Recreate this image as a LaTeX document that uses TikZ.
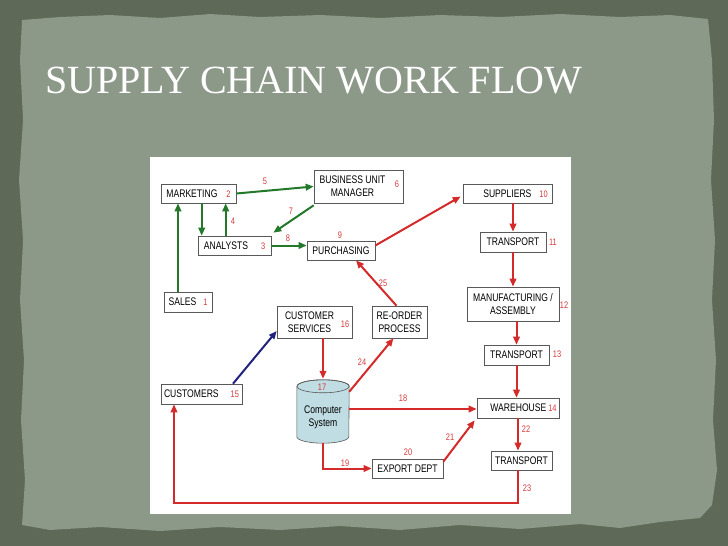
\documentclass[tikz,border=0pt]{standalone}
\usepackage{fontspec}
\setmainfont{Liberation Sans}
\newfontfamily\titlefont{Liberation Serif}
\newfontfamily\boxfont[FakeStretch=0.78]{Liberation Sans}
\usetikzlibrary{arrows.meta}
\definecolor{slate}{HTML}{5E6A57}
\definecolor{paper}{HTML}{8C9888}
\definecolor{flowgreen}{HTML}{23782A}
\definecolor{flowred}{HTML}{D42A2A}
\definecolor{flowblue}{HTML}{22227E}
\definecolor{numred}{HTML}{D23A3A}
\definecolor{drum}{HTML}{BFDDE3}
\newcommand{\steptag}[1]{{\color{numred}\fontsize{9.5}{10}\selectfont #1}}
\begin{document}
\begin{tikzpicture}[x=1pt,y=-1pt,every node/.style={font=\boxfont\fontsize{11}{13}\selectfont},
  box/.style={draw=black!65,line width=0.6pt,fill=white,inner sep=0pt,align=center},
  num/.style={text=numred,font=\boxfont\fontsize{9.5}{10}\selectfont,inner sep=0pt},
  garr/.style={-{Triangle[length=8pt,width=6.5pt]},line width=2pt,flowgreen},
  rarr/.style={-{Triangle[length=8pt,width=6.5pt]},line width=2pt,flowred},
  barr/.style={-{Triangle[length=8pt,width=6.5pt]},line width=2pt,flowblue}]
% Background
\fill[slate] (0,0) rectangle (728,546);
\fill[paper] (22,20) -- (60,17) -- (110,15) -- (160,18) -- (210,14) -- (260,17) -- (320,15) -- (380,18)
  -- (440,15) -- (500,17) -- (560,14) -- (620,17) -- (670,15) -- (708,19) -- (712,60) -- (714,120)
  -- (711,180) -- (715,240) -- (712,300) -- (716,360) -- (713,420) -- (717,470) -- (712,505) -- (700,518)
  -- (660,522) -- (620,528) -- (580,524) -- (520,529) -- (460,525) -- (400,530) -- (340,526) -- (280,530)
  -- (220,527) -- (160,531) -- (100,527) -- (50,530) -- (22,525) -- (25,480) -- (21,420) -- (24,360)
  -- (20,300) -- (23,240) -- (19,180) -- (23,120) -- (20,60) -- cycle;
\useasboundingbox (0,0) rectangle (728,546);
\node[font=\titlefont\fontsize{40}{44}\selectfont,text=white,anchor=base west,inner sep=0pt] (title) at (45,93) {SUPPLY CHAIN WORK FLOW};
\node[fill=white,minimum width=421pt,minimum height=357pt,inner sep=0pt] (panel) at (360.5,335.5) {};
% Boxes
\node[box,minimum width=75pt,minimum height=19pt] (mkt) at (198.5,193.5) {MARKETING\hspace{9pt}\steptag{2}};
\node[box,minimum width=73pt,minimum height=19pt] (ana) at (234.5,245.5) {ANALYSTS\hspace{13pt}\steptag{3}};
\node[box,minimum width=48pt,minimum height=20pt] (sales) at (188,302) {SALES\hspace{7pt}\steptag{1}};
\node[box,minimum width=89pt,minimum height=33pt] (bum) at (358.5,186.5) {\hspace{-12pt}BUSINESS UNIT\\\hspace{-12pt}MANAGER};
\node[box,minimum width=89pt,minimum height=19pt] (sup) at (507.5,193.5) {\hspace{16pt}SUPPLIERS\hspace{8pt}\steptag{10}};
\node[box,minimum width=68pt,minimum height=19pt] (pur) at (341,250.5) {PURCHASING};
\node[box,minimum width=66pt,minimum height=20pt] (tra) at (513,242) {TRANSPORT};
\node[box,minimum width=92pt,minimum height=34pt] (man) at (513,304) {MANUFACTURING /\\ASSEMBLY};
\node[box,minimum width=65pt,minimum height=20pt] (trb) at (516.5,355) {TRANSPORT};
\node[box,minimum width=82pt,minimum height=20pt] (wh) at (518,408) {\hspace{11pt}WAREHOUSE\hspace{2pt}\steptag{14}};
\node[box,minimum width=61pt,minimum height=19pt] (trc) at (521.5,460.5) {TRANSPORT};
\node[box,minimum width=71pt,minimum height=19pt] (exp) at (407.5,468.5) {EXPORT DEPT};
\node[box,minimum width=55pt,minimum height=32pt] (ro) at (399.5,322) {RE-ORDER\\PROCESS};
\node[box,minimum width=75pt,minimum height=32pt] (cs) at (314.5,322) {\hspace{-10pt}CUSTOMER\\\hspace{-10pt}SERVICES};
\node[box,minimum width=81pt,minimum height=20pt] (cust) at (201.5,394) {CUSTOMERS\hspace{12pt}\steptag{15}};
% Computer system
\node[minimum width=52pt,minimum height=63pt,inner sep=0pt] (comp) at (323,411.5) {};
\filldraw[fill=drum,draw=black!65,line width=0.6pt] ([yshift=-6.5pt]comp.north west) -- ([yshift=6.5pt]comp.south west)
  arc (180:0:26 and 6.5) -- ([yshift=-6.5pt]comp.north east) arc (0:-180:26 and 6.5) -- cycle;
\draw[black!65,line width=0.6pt] ([yshift=-6.5pt]comp.north) ellipse (26 and 6.5);
\node[align=center] (comptxt) at (323,417) {Computer\\System};
% Green flows
\draw[garr] ([xshift=-10pt]sales.north) -- ([xshift=-10pt]sales.north |- mkt.south);
\draw[garr] ([xshift=4pt]ana.north west |- mkt.south) -- ([xshift=4pt]ana.north west);
\draw[garr] ([xshift=28pt]ana.north west) -- ([xshift=28pt]ana.north west |- mkt.south);
\draw[garr] (mkt.east) -- (bum.west);
\draw[garr] ([yshift=-2pt]bum.south west) -- ([xshift=2pt,yshift=3pt]ana.north east);
\draw[garr] (ana.east) -- (ana.east -| pur.west);
% Red flows
\draw[rarr] ([yshift=5pt]pur.east) -- ([xshift=-2pt,yshift=-3pt]sup.west);
\draw[rarr] (tra.north |- sup.south) -- (tra.north);
\draw[rarr] (tra.south) -- (tra.south |- man.north);
\draw[rarr] (trb.north |- man.south) -- (trb.north);
\draw[rarr] (trb.south) -- (trb.south |- wh.north);
\draw[rarr] (wh.south) -- (wh.south |- trc.north);
\coordinate (loop) at (0,503);
\draw[rarr] ([xshift=-3.5pt]trc.south) -- ([xshift=-3.5pt]trc.south |- loop) -| ([xshift=-27.5pt]cust.south);
\draw[rarr] ([xshift=-3pt]ro.north) -- ([xshift=15pt]pur.south);
\draw[rarr] ([yshift=-12pt]comp.north east) -- ([xshift=-6pt]ro.south);
\draw[rarr] (cs.south -| comp.north) -- ([yshift=1pt]comp.north);
\draw[rarr] ([yshift=-1pt]wh.west -| comp.east) -- ([yshift=-1pt]wh.west);
\draw[rarr] (comp.south) |- (exp.west);
\draw[rarr] ([yshift=-3pt]exp.north east) -- ([xshift=-2pt,yshift=-2pt]wh.south west);
% Blue flow
\draw[barr] ([xshift=31.5pt]cust.north) -- ([yshift=-9pt]cs.west);
% Step numbers
\node[num] (n4) at (233,221) {4};
\node[num] (n5) at (265,181) {5};
\node[num] (n6) at (397,184) {6};
\node[num] (n7) at (291,211) {7};
\node[num] (n8) at (288,238) {8};
\node[num] (n9) at (340,235) {9};
\node[num] (n11) at (553,242) {11};
\node[num] (n12) at (564,305) {12};
\node[num] (n13) at (557,354) {13};
\node[num] (n16) at (345,324) {16};
\node[num] (n17) at (322,387) {17};
\node[num] (n18) at (403,398) {18};
\node[num] (n19) at (345,463) {19};
\node[num] (n20) at (408,452) {20};
\node[num] (n21) at (450,437) {21};
\node[num] (n22) at (526,429) {22};
\node[num] (n23) at (527,488) {23};
\node[num] (n24) at (362,362) {24};
\node[num] (n25) at (383,283) {25};
\end{tikzpicture}
\end{document}
